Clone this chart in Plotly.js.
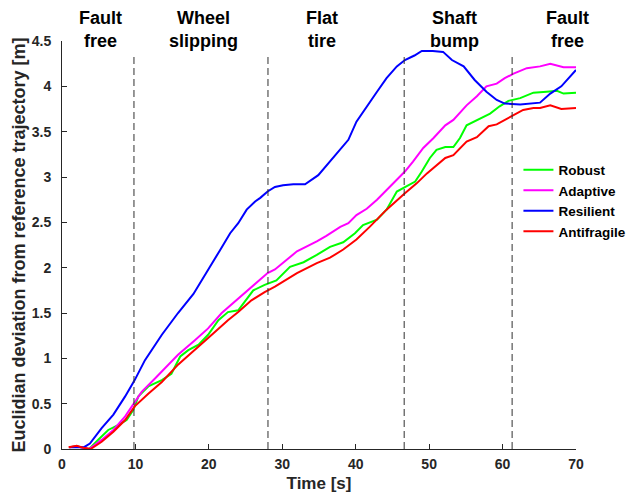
<!DOCTYPE html>
<html>
<head>
<meta charset="utf-8">
<script src="https://cdn.plot.ly/plotly-3.0.1.min.js"></script>
<style>html,body{margin:0;padding:0;background:#fff;overflow:hidden;}#plot{width:633px;height:500px;}</style>
</head>
<body>
<div id="plot"></div>
<script>
// Robust (green)
var robustT = [1, 2, 3, 3.7, 4.9, 6.3, 7.7, 8.8, 9.7, 10.4, 11.75, 13.6, 14.9, 16.1, 17.2, 18.6, 19.9, 21.3, 22.6, 24.0, 26.05, 27.6, 29.2, 31.05, 32.9, 34.7, 36.5, 38.3, 39.9, 41.0, 42.9, 44.2, 45.6, 46.7, 48.1, 49.0, 50.1, 51.0, 52.2, 53.3, 54.2, 55.1, 56.9, 58.3, 59.6, 60.8, 62.4, 64.2, 66.0, 67.4, 68.3, 70];
var robustY = [0.02, 0.03, 0.01, 0, 0.1, 0.21, 0.265, 0.32, 0.43, 0.58, 0.69, 0.76, 0.83, 1.02, 1.09, 1.15, 1.26, 1.42, 1.51, 1.53, 1.75, 1.81, 1.86, 2.01, 2.06, 2.14, 2.23, 2.28, 2.38, 2.47, 2.53, 2.64, 2.84, 2.89, 2.95, 3.06, 3.21, 3.30, 3.33, 3.33, 3.43, 3.57, 3.64, 3.70, 3.78, 3.84, 3.87, 3.93, 3.94, 3.95, 3.92, 3.93];
// Adaptive (magenta)
var adaptiveT = [1, 2, 3, 3.7, 5.4, 7.0, 8.6, 9.9, 10.85, 12.7, 14.0, 15.8, 18.1, 19.9, 21.75, 24.0, 26.3, 28.0, 29.0, 32.0, 34.7, 36.0, 37.9, 39.0, 40.1, 41.5, 42.9, 44.2, 45.6, 46.7, 47.8, 49.2, 50.6, 52.2, 53.3, 55.1, 56.5, 57.8, 59.2, 60.3, 61.5, 63.3, 65.1, 66.5, 68.3, 70];
var adaptiveY = [0.02, 0.03, 0.01, 0, 0.1, 0.21, 0.36, 0.52, 0.63, 0.78, 0.89, 1.04, 1.20, 1.33, 1.50, 1.66, 1.83, 1.94, 1.98, 2.18, 2.29, 2.35, 2.45, 2.49, 2.58, 2.65, 2.75, 2.86, 2.97, 3.06, 3.17, 3.32, 3.43, 3.57, 3.63, 3.79, 3.89, 4.00, 4.03, 4.09, 4.14, 4.20, 4.22, 4.25, 4.21, 4.21];
// Resilient (blue)
var resilientT = [1, 2, 3, 3.8, 5.4, 7.0, 8.6, 9.9, 11.3, 13.6, 14.3, 15.8, 17.9, 19.9, 21.5, 22.9, 24.0, 25.15, 26.3, 27.0, 28.0, 29.0, 30.1, 31.5, 33.1, 34.9, 36.9, 38.1, 39.0, 40.1, 41.5, 42.9, 44.2, 45.6, 46.7, 48.0, 49.0, 50.5, 51.9, 53.1, 54.7, 56.2, 57.8, 59.2, 60.3, 62.4, 65.1, 66.5, 68.0, 70];
var resilientY = [0.02, 0.02, 0.02, 0.06, 0.23, 0.38, 0.58, 0.76, 0.98, 1.26, 1.34, 1.50, 1.71, 1.97, 2.19, 2.38, 2.49, 2.64, 2.73, 2.77, 2.84, 2.89, 2.91, 2.92, 2.92, 3.02, 3.21, 3.33, 3.41, 3.61, 3.78, 3.94, 4.09, 4.22, 4.29, 4.34, 4.39, 4.39, 4.38, 4.29, 4.22, 4.07, 3.94, 3.85, 3.81, 3.80, 3.82, 3.92, 4.00, 4.18];
// Antifragile (red)
var antifragileT = [0.9, 2.0, 3.1, 3.9, 5.4, 7.0, 8.6, 9.9, 11.75, 13.6, 15.8, 18.1, 20.4, 22.6, 24.0, 25.8, 27.6, 29.0, 32.0, 34.7, 36.5, 38.3, 40.1, 41.9, 44.2, 46.7, 48.3, 49.7, 51.0, 52.2, 53.3, 55.1, 56.5, 58.1, 59.2, 60.3, 61.5, 62.8, 64.2, 65.1, 66.5, 68.0, 70];
var antifragileY = [0.02, 0.036, 0.01, 0.0, 0.08, 0.19, 0.32, 0.47, 0.61, 0.74, 0.93, 1.09, 1.26, 1.42, 1.51, 1.64, 1.73, 1.79, 1.94, 2.05, 2.11, 2.20, 2.31, 2.45, 2.64, 2.82, 2.93, 3.04, 3.13, 3.21, 3.24, 3.39, 3.44, 3.56, 3.58, 3.63, 3.68, 3.74, 3.76, 3.76, 3.79, 3.75, 3.76];

var seriesNames = ["Robust", "Adaptive", "Resilient", "Antifragile"];
var seriesColors = ["#00ff00", "#ff00ff", "#0000ff", "#ff0000"];

var faultTimes = [9.8, 28.05, 46.6, 61.3];
var faultLineTop = 4.35;

var phaseLabels = ["Fault<br>free", "Wheel<br>slipping", "Flat<br>tire", "Shaft<br>bump", "Fault<br>free"];
var phaseLabelT = [5.2, 19.3, 35.4, 53.4, 68.8];

var xTicks = [0, 10, 20, 30, 40, 50, 60, 70];
var yTicks = [0, 0.5, 1, 1.5, 2, 2.5, 3, 3.5, 4, 4.5];

var xs = [robustT, adaptiveT, resilientT, antifragileT];
var ys = [robustY, adaptiveY, resilientY, antifragileY];

var traces = seriesNames.map(function (n, i) {
  return {x: xs[i], y: ys[i], name: n, type: "scatter", mode: "lines",
          line: {color: seriesColors[i], width: 2}};
});

var shapes = faultTimes.map(function (t) {
  return {type: "line", xref: "x", yref: "y", x0: t, x1: t, y0: 0, y1: faultLineTop,
          line: {color: "#303030", width: 1, dash: "7px,4px"}};
});

var annotations = phaseLabels.map(function (txt, i) {
  return {text: txt, x: phaseLabelT[i], xref: "x", y: 1.027, yref: "paper",
          xanchor: "center", yanchor: "middle", showarrow: false, align: "center",
          font: {family: "Liberation Sans, Arial, sans-serif", size: 18, color: "#000", weight: "bold"}};
});

var fontBase = {family: "Liberation Sans, Arial, sans-serif", size: 14, color: "#262626", weight: "bold"};

var layout = {
  width: 633, height: 500,
  margin: {l: 62, r: 57, t: 41, b: 51, pad: 0, autoexpand: false},
  paper_bgcolor: "#fff", plot_bgcolor: "#fff",
  font: fontBase,
  showlegend: true,
  legend: {x: 0.888, y: 0.722, xanchor: "left", yanchor: "top", bgcolor: "rgba(0,0,0,0)",
           font: {family: "Liberation Sans, Arial, sans-serif", size: 13.5, color: "#000", weight: "bold"},
           tracegroupgap: 0, itemwidth: 30},
  xaxis: {range: [0, 70], tickvals: xTicks, ticktext: xTicks.map(String), showgrid: false, zeroline: false,
          showline: true, linecolor: "#262626", linewidth: 1, ticks: "inside", ticklen: 5, tickcolor: "#262626",
          tickfont: fontBase, ticklabelstandoff: 2,
          title: {text: "Time [s]", font: {family: "Liberation Sans, Arial, sans-serif", size: 17, color: "#262626", weight: "bold"}, standoff: 6}},
  yaxis: {range: [0, 4.5], tickvals: yTicks, ticktext: yTicks.map(String), showgrid: false, zeroline: false,
          showline: true, linecolor: "#262626", linewidth: 1, ticks: "inside", ticklen: 5, tickcolor: "#262626",
          tickfont: fontBase, ticklabelstandoff: 7,
          title: {text: "Euclidian deviation from reference trajectory [m]", font: {family: "Liberation Sans, Arial, sans-serif", size: 18, color: "#262626", weight: "bold"}, standoff: 1}},
  shapes: shapes,
  annotations: annotations
};

Plotly.newPlot("plot", traces, layout, {staticPlot: true, displayModeBar: false});
</script>
</body>
</html>
